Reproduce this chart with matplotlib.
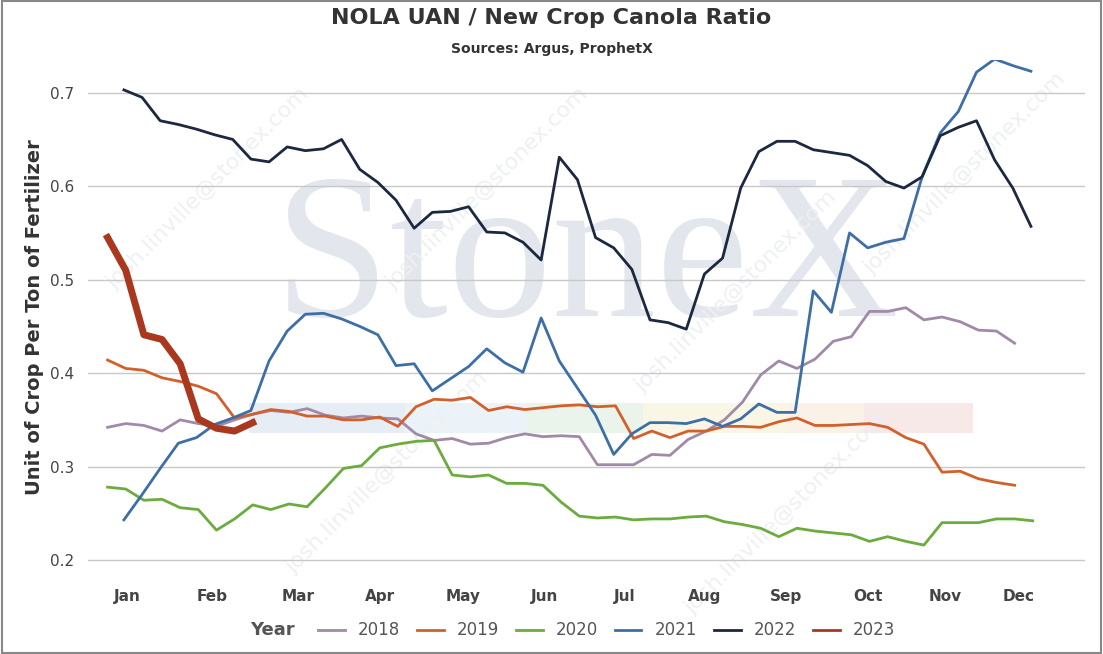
import numpy as np
import matplotlib.pyplot as plt

years = ['2018', '2019', '2020', '2021', '2022', '2023']
colors = ['#a08aa8', '#d2602b', '#6cab3e', '#3d6fa6', '#1b2840', '#a9381f']

# week offsets: 2021/2022 start at week 0, the others a bit earlier
start = {'2018': -0.9, '2019': -0.9, '2020': -0.9, '2021': 0, '2022': 0, '2023': -0.9}

v2018 = [0.342, 0.346, 0.344, 0.338, 0.350, 0.346, 0.343, 0.350, 0.356, 0.360, 0.358, 0.362, 0.355,
         0.352, 0.354, 0.352, 0.351, 0.335, 0.328, 0.330, 0.324, 0.325, 0.331, 0.335, 0.332, 0.333,
         0.332, 0.302, 0.302, 0.302, 0.313, 0.312, 0.329, 0.338, 0.350, 0.369, 0.398, 0.413, 0.405,
         0.415, 0.434, 0.439, 0.466, 0.466, 0.470, 0.457, 0.460, 0.455, 0.446, 0.445, 0.432]
v2019 = [0.414, 0.405, 0.403, 0.395, 0.391, 0.386, 0.378, 0.352, 0.356, 0.361, 0.359, 0.354, 0.354,
         0.350, 0.350, 0.353, 0.343, 0.364, 0.372, 0.371, 0.374, 0.360, 0.364, 0.361, 0.363, 0.365,
         0.366, 0.364, 0.365, 0.330, 0.338, 0.331, 0.338, 0.338, 0.343, 0.343, 0.342, 0.348, 0.352,
         0.344, 0.344, 0.345, 0.346, 0.342, 0.331, 0.324, 0.294, 0.295, 0.287, 0.283, 0.280]
v2020 = [0.278, 0.276, 0.264, 0.265, 0.256, 0.254, 0.232, 0.244, 0.259, 0.254, 0.260, 0.257, 0.277,
         0.298, 0.301, 0.320, 0.324, 0.327, 0.328, 0.291, 0.289, 0.291, 0.282, 0.282, 0.280, 0.262,
         0.247, 0.245, 0.246, 0.243, 0.244, 0.244, 0.246, 0.247, 0.241, 0.238, 0.234, 0.225, 0.234,
         0.231, 0.229, 0.227, 0.220, 0.225, 0.220, 0.216, 0.240, 0.240, 0.240, 0.244, 0.244, 0.242]
v2021 = [0.243, 0.270, 0.298, 0.325, 0.331, 0.345, 0.352, 0.360, 0.413, 0.445, 0.463, 0.464, 0.458,
         0.450, 0.441, 0.408, 0.410, 0.381, 0.394, 0.407, 0.426, 0.411, 0.401, 0.459, 0.413, 0.384,
         0.355, 0.313, 0.335, 0.347, 0.347, 0.346, 0.351, 0.343, 0.351, 0.367, 0.358, 0.358, 0.488,
         0.465, 0.550, 0.534, 0.540, 0.544, 0.610, 0.657, 0.680, 0.722, 0.736, 0.729, 0.723]
v2022 = [0.703, 0.695, 0.670, 0.666, 0.661, 0.655, 0.650, 0.629, 0.626, 0.642, 0.638, 0.640, 0.650,
         0.618, 0.604, 0.585, 0.555, 0.572, 0.573, 0.578, 0.551, 0.550, 0.540, 0.521, 0.631, 0.607,
         0.545, 0.534, 0.511, 0.457, 0.454, 0.447, 0.506, 0.523, 0.598, 0.637, 0.648, 0.648, 0.639,
         0.636, 0.633, 0.622, 0.605, 0.598, 0.610, 0.654, 0.663, 0.670, 0.628, 0.598, 0.557]
v2023 = [0.545, 0.510, 0.441, 0.436, 0.410, 0.351, 0.341, 0.338, 0.347]
values = [v2018, v2019, v2020, v2021, v2022, v2023]

months = ['Jan', 'Feb', 'Mar', 'Apr', 'May', 'Jun', 'Jul', 'Aug', 'Sep', 'Oct', 'Nov', 'Dec']
month_pos = [0.17, 4.85, 9.6, 14.1, 18.7, 23.2, 27.6, 32.0, 36.5, 41.0, 45.3, 49.3]

fig = plt.figure(figsize=(11.03, 6.54), dpi=100)
ax = fig.add_axes([88 / 1103, 79 / 654, 997 / 1103, 515 / 654])
fig.patches.append(plt.Rectangle((0.002, 0.002), 0.996, 0.996, transform=fig.transFigure,
                                 fill=False, ec='#888888', lw=1.5))

# watermark
ax.text(0.5, 0.6, 'StoneX', transform=ax.transAxes, ha='center', va='center',
        fontsize=150, family='Liberation Serif', color='#e3e6ec', zorder=0)
band_cols = ['#dde6f0', '#e4eef6', '#e3f0e3', '#f7f3dc', '#f8ece0', '#f6e0e0']
band_x = [6.9, 15.5, 22.2, 28.6, 36.6, 40.8, 46.8]
for i, c in enumerate(band_cols):
    ax.axvspan(band_x[i], band_x[i + 1], ymin=(0.336 - 0.184) / 0.551, ymax=(0.368 - 0.184) / 0.551,
               color=c, alpha=0.7, lw=0, zorder=0)
for xx, yy in [(0.12, 0.75), (0.4, 0.75), (0.65, 0.55), (0.3, 0.2), (0.7, 0.12), (0.88, 0.78)]:
    ax.text(xx, yy, 'josh.linville@stonex.com', transform=ax.transAxes, rotation=45,
            fontsize=16, color='#eef0f3', ha='center', va='center', zorder=0)

for yr, vals, col in zip(years, values, colors):
    x = start[yr] + np.arange(len(vals))
    lw = 5 if yr == '2023' else 2
    ax.plot(x, vals, color=col, lw=lw, label=yr, zorder=3)

ax.set_xlim(-1.98, 52.98)
ax.set_ylim(0.184, 0.735)
ax.set_yticks([0.2, 0.3, 0.4, 0.5, 0.6, 0.7])
ax.set_yticklabels(['0.2', '0.3', '0.4', '0.5', '0.6', '0.7'])
ax.set_xticks(month_pos)
ax.set_xticklabels(months, fontweight='bold', color='#444444')
ax.tick_params(axis='both', length=0, labelsize=11, colors='#444444', pad=10)
ax.grid(axis='y', color='#c8c8c8', lw=1)
for s in ax.spines.values():
    s.set_visible(False)
ax.set_ylabel('Unit of Crop Per Ton of Fertilizer', fontsize=14, fontweight='bold', color='#333333')

fig.text(0.5, 0.972, 'NOLA UAN / New Crop Canola Ratio', ha='center', va='center',
         fontsize=16, fontweight='bold', color='#333333')
fig.text(0.5, 0.925, 'Sources: Argus, ProphetX', ha='center', va='center',
         fontsize=10, fontweight='bold', color='#333333')

handles, labels = ax.get_legend_handles_labels()
leg = fig.legend(handles, labels, loc='center', bbox_to_anchor=(0.55, 0.036), ncol=6,
                 frameon=False, fontsize=12, handlelength=1.6, columnspacing=1.0)
for lh in leg.get_lines():
    lh.set_linewidth(2)
for t in leg.get_texts():
    t.set_color('#555555')
fig.text(0.247, 0.036, 'Year', ha='center', va='center', fontsize=13,
         fontweight='bold', color='#555555')

fig.savefig('out.png', dpi=100)
